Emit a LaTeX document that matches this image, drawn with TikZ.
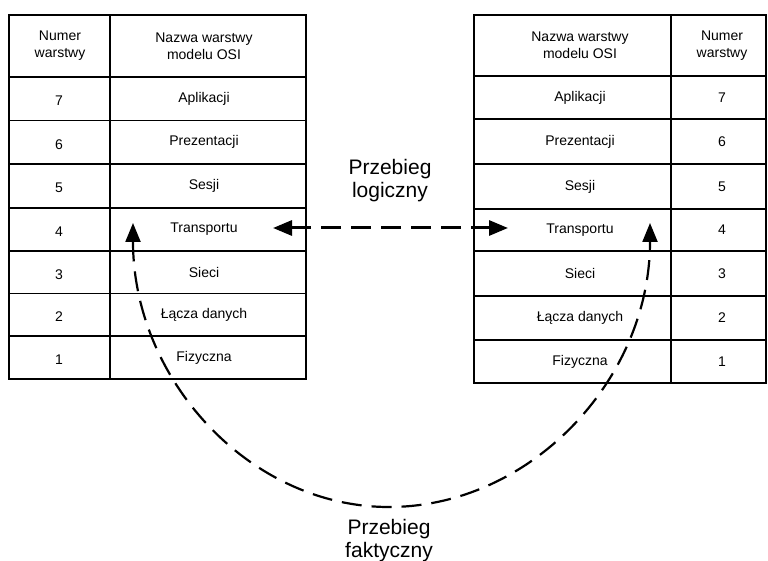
\documentclass[tikz,border=0pt]{standalone}
\usepackage{fontspec}
\setmainfont{Liberation Sans}
\usetikzlibrary{arrows.meta}
\begin{document}
\begin{tikzpicture}[x=1pt,y=-1pt,
  cell/.style={font=\fontsize{14}{17}\selectfont, align=center, inner sep=0pt},
  big/.style={font=\fontsize{21}{23}\selectfont, align=center, inner sep=0pt},
  gridline/.style={line width=1.5pt},
  frame/.style={line width=2.4pt},
  logic/.style={line width=3pt, dash pattern=on 20pt off 10pt,
    {Triangle[length=19pt,width=15pt]}-{Triangle[length=19pt,width=15pt]}},
  phys/.style={line width=2.2pt, dash pattern=on 20pt off 10pt,
    {Triangle[length=19pt,width=15pt]}-{Triangle[length=19pt,width=15pt]}}]
\useasboundingbox (0,0) rectangle (768,561);

% ---- left stack: number | layer name ----
\foreach \y in {77,120.5,164,208,251,293.5,336}
  \draw[gridline] (9,\y) -- (306,\y);
\draw[gridline] (110,15) -- (110,379);
\draw[frame] (9,15) rectangle (306,379);
\node[cell] (lhn) at (60,46) {Numer\\warstwy};
\node[cell] (lht) at (204,46) {Nazwa warstwy\\modelu OSI};
\foreach \n/\t/\y in {7/Aplikacji/98.75, 6/Prezentacji/142.25, 5/Sesji/186,
    4/Transportu/229.5, 3/Sieci/272.25, 2/Łącza danych/314.75, 1/Fizyczna/357.5}{
  \node[cell] (ln\n) at (59,\y+2) {\n};
  \node[cell] (lt\n) at (204,\y) {\t};
}

% ---- right stack: layer name | number ----
\foreach \y in {76,119,164,209,251,296,340}
  \draw[gridline] (474,\y) -- (766,\y);
\draw[gridline] (671,15) -- (671,383);
\draw[frame] (474,15) rectangle (766,383);
\node[cell] (rht) at (580,45.5) {Nazwa warstwy\\modelu OSI};
\node[cell] (rhn) at (722,45.5) {Numer\\warstwy};
\foreach \n/\t/\y in {7/Aplikacji/97.5, 6/Prezentacji/141.5, 5/Sesji/186.5,
    4/Transportu/230, 3/Sieci/273.5, 2/Łącza danych/318, 1/Fizyczna/361.5}{
  \node[cell] (rt\n) at (580,\y) {\t};
  \node[cell] (rn\n) at (722,\y) {\n};
}

% ---- labels ----
\node[big] (logl) at (390,181) {Przebieg\\logiczny};
\node[big] (fakl) at (389,541) {Przebieg\\faktyczny};

% ---- logical path between the transport layers ----
\coordinate (la) at (273,228);
\coordinate (ra) at (508,228);
\draw[logic] (la) -- (ra);

% ---- physical path down one stack and up the other ----
\coordinate (pl) at (133,223);
\coordinate (pb) at (389,507);
\coordinate (pr) at (650,223);
\draw[phys] (pl) .. controls (133,380) and (250,507) .. (pb)
            .. controls (530,507) and (650,380) .. (pr);
\end{tikzpicture}
\end{document}
